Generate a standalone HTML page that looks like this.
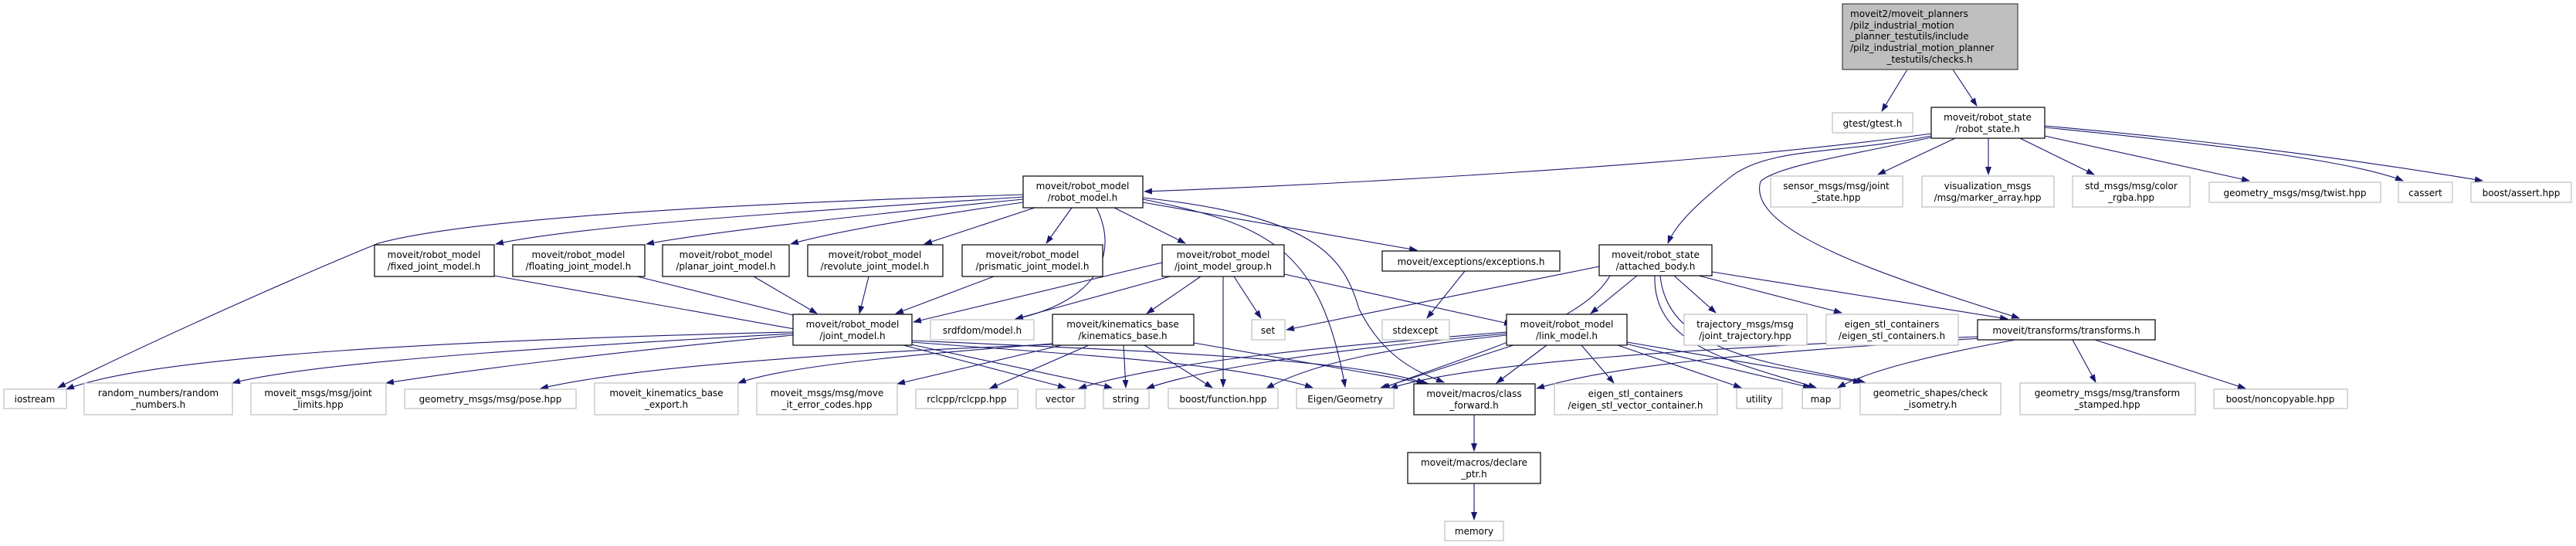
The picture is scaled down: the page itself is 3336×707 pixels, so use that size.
<!DOCTYPE html>
<html><head><meta charset="utf-8"><style>
html,body{margin:0;padding:0;background:#fff;}
svg{display:block;}
text{font-family:"DejaVu Sans","Liberation Sans",sans-serif;font-size:12px;fill:#000;}
.n{fill:#fff;stroke:#000;stroke-width:1.2;}
.g{fill:#fff;stroke:#bfbfbf;stroke-width:1.2;}
.r{fill:#bfbfbf;stroke:#404040;stroke-width:1.2;}
.e{fill:none;stroke:#191970;stroke-width:1.1;marker-end:url(#a);}
</style></head><body>
<svg width="3336" height="707" viewBox="0 0 3336 707" xmlns="http://www.w3.org/2000/svg">
<defs><marker id="a" markerUnits="userSpaceOnUse" markerWidth="11" markerHeight="8" refX="10" refY="4" orient="auto"><path d="M0,0 L11,4 L0,8 z" fill="#191970"/></marker></defs>
<g>
<path class="e" d="M2470,90 L2437,144"/>
<path class="e" d="M2529,90 L2560,137"/>
<path class="e" d="M2501,173 C2200,215 1700,240 1482,248"/>
<path class="e" d="M2501,176 C2380,200 2290,190 2240,230 C2200,262 2170,290 2160,315"/>
<path class="e" d="M2501,178 C2400,200 2300,215 2280,235 C2260,300 2450,360 2615,412"/>
<path class="e" d="M2532,179 L2432,226"/>
<path class="e" d="M2575,179 L2575,226"/>
<path class="e" d="M2616,179 L2712,226"/>
<path class="e" d="M2648,176 L2913,234"/>
<path class="e" d="M2648,165 C2900,190 3050,210 3112,234"/>
<path class="e" d="M2648,163 C2900,185 3100,215 3215,234"/>
<path class="e" d="M1325,255 C1100,270 760,290 642,316"/>
<path class="e" d="M1325,258 C1150,275 920,300 837,316"/>
<path class="e" d="M1325,262 C1200,280 1080,300 1024,316"/>
<path class="e" d="M1340,269 L1197,316"/>
<path class="e" d="M1388,269 L1355,315"/>
<path class="e" d="M1443,269 L1535,315"/>
<path class="e" d="M1480,262 L1835,324"/>
<path class="e" d="M1325,252 C900,265 600,285 490,315 C380,360 200,440 75,502"/>
<path class="e" d="M1420,269 C1450,330 1420,390 1315,413"/>
<path class="e" d="M1480,258 C1640,290 1710,320 1742,501"/>
<path class="e" d="M1480,256 C1700,280 1740,330 1760,400 C1790,460 1830,480 1870,495"/>
<path class="e" d="M640,357 L1040,428"/>
<path class="e" d="M825,358 L1043,412"/>
<path class="e" d="M976,358 L1058,406"/>
<path class="e" d="M1125,358 L1113,406"/>
<path class="e" d="M1287,358 L1160,406"/>
<path class="e" d="M1505,340 L1183,417"/>
<path class="e" d="M1515,358 L1315,413"/>
<path class="e" d="M1555,358 L1485,406"/>
<path class="e" d="M1598,358 L1633,412"/>
<path class="e" d="M1663,355 L1958,420"/>
<path class="e" d="M1584,358 L1584,501"/>
<path class="e" d="M1897,351 L1848,412"/>
<path class="e" d="M2071,345 L1666,427"/>
<path class="e" d="M2120,357 L2060,406"/>
<path class="e" d="M2168,357 L2222,405"/>
<path class="e" d="M2200,357 L2385,405"/>
<path class="e" d="M2217,352 L2600,413"/>
<path class="e" d="M2143,357 C2140,450 2250,470 2352,502"/>
<path class="e" d="M2150,357 C2160,460 2300,470 2415,495"/>
<path class="e" d="M2085,357 C2050,420 1900,460 1790,503"/>
<path class="e" d="M1027,430 C600,440 200,460 86,504"/>
<path class="e" d="M1027,432 C700,450 400,470 301,496"/>
<path class="e" d="M1027,434 C800,455 600,480 500,496"/>
<path class="e" d="M1170,447 L1380,502"/>
<path class="e" d="M1175,445 L1440,502"/>
<path class="e" d="M1181,443 C1400,460 1600,470 1700,502"/>
<path class="e" d="M1181,441 C1500,455 1750,465 1845,496"/>
<path class="e" d="M1363,446 C1000,460 800,480 700,503"/>
<path class="e" d="M1363,445 C1100,465 1000,480 956,496"/>
<path class="e" d="M1375,447 L1162,497"/>
<path class="e" d="M1410,447 L1282,503"/>
<path class="e" d="M1455,447 L1458,502"/>
<path class="e" d="M1482,447 L1570,502"/>
<path class="e" d="M1546,444 L1850,497"/>
<path class="e" d="M1951,430 C1700,450 1500,470 1397,503"/>
<path class="e" d="M1951,432 C1700,455 1550,480 1485,503"/>
<path class="e" d="M1951,434 C1800,450 1700,470 1640,503"/>
<path class="e" d="M1960,447 L1787,503"/>
<path class="e" d="M2003,447 L1938,496"/>
<path class="e" d="M2048,447 L2090,496"/>
<path class="e" d="M2095,447 L2255,502"/>
<path class="e" d="M2105,445 L2345,502"/>
<path class="e" d="M2107,443 L2410,495"/>
<path class="e" d="M2561,436 C2200,450 1900,470 1800,503"/>
<path class="e" d="M2565,438 C2300,455 2100,470 1990,503"/>
<path class="e" d="M2610,440 C2500,460 2420,480 2380,502"/>
<path class="e" d="M2684,440 L2714,495"/>
<path class="e" d="M2713,440 L2908,503"/>
<path class="e" d="M1909,537 L1909,584"/>
<path class="e" d="M1909,626 L1909,673"/>
</g>
<g>
<rect class="r" x="2386" y="5" width="227" height="85"/>
<text x="2396" y="22">moveit2/moveit_planners</text>
<text x="2396" y="37">/pilz_industrial_motion</text>
<text x="2396" y="51">_planner_testutils/include</text>
<text x="2396" y="66">/pilz_industrial_motion_planner</text>
<text x="2499" y="81" text-anchor="middle">_testutils/checks.h</text>
</g>
<g text-anchor="middle">
<rect class="g" x="2373" y="146" width="104" height="26"/><text x="2425" y="164">gtest/gtest.h</text>
<rect class="n" x="2501" y="139" width="147" height="40"/><text x="2574" y="156">moveit/robot_state</text><text x="2574" y="171">/robot_state.h</text>
<rect class="g" x="2293" y="228" width="171" height="40"/><text x="2378" y="245">sensor_msgs/msg/joint</text><text x="2378" y="260">_state.hpp</text>
<rect class="g" x="2489" y="228" width="171" height="40"/><text x="2574" y="245">visualization_msgs</text><text x="2574" y="260">/msg/marker_array.hpp</text>
<rect class="g" x="2684" y="228" width="152" height="40"/><text x="2760" y="245">std_msgs/msg/color</text><text x="2760" y="260">_rgba.hpp</text>
<rect class="g" x="2861" y="236" width="222" height="26"/><text x="2972" y="254">geometry_msgs/msg/twist.hpp</text>
<rect class="g" x="3106" y="236" width="70" height="26"/><text x="3141" y="254">cassert</text>
<rect class="g" x="3200" y="236" width="130" height="26"/><text x="3265" y="254">boost/assert.hpp</text>
<rect class="n" x="1325" y="228" width="155" height="41"/><text x="1402" y="245">moveit/robot_model</text><text x="1402" y="260">/robot_model.h</text>
<rect class="n" x="485" y="317" width="155" height="41"/><text x="562" y="334">moveit/robot_model</text><text x="562" y="349">/fixed_joint_model.h</text>
<rect class="n" x="664" y="317" width="171" height="41"/><text x="749" y="334">moveit/robot_model</text><text x="749" y="349">/floating_joint_model.h</text>
<rect class="n" x="858" y="317" width="164" height="41"/><text x="940" y="334">moveit/robot_model</text><text x="940" y="349">/planar_joint_model.h</text>
<rect class="n" x="1046" y="317" width="175" height="41"/><text x="1133" y="334">moveit/robot_model</text><text x="1133" y="349">/revolute_joint_model.h</text>
<rect class="n" x="1246" y="317" width="182" height="41"/><text x="1337" y="334">moveit/robot_model</text><text x="1337" y="349">/prismatic_joint_model.h</text>
<rect class="n" x="1505" y="317" width="158" height="41"/><text x="1584" y="334">moveit/robot_model</text><text x="1584" y="349">/joint_model_group.h</text>
<rect class="n" x="1790" y="325" width="230" height="26"/><text x="1905" y="343">moveit/exceptions/exceptions.h</text>
<rect class="n" x="2071" y="317" width="146" height="40"/><text x="2144" y="334">moveit/robot_state</text><text x="2144" y="349">/attached_body.h</text>
<rect class="n" x="1027" y="407" width="154" height="40"/><text x="1104" y="424">moveit/robot_model</text><text x="1104" y="439">/joint_model.h</text>
<rect class="g" x="1205" y="414" width="134" height="26"/><text x="1272" y="432">srdfdom/model.h</text>
<rect class="n" x="1363" y="407" width="183" height="40"/><text x="1454" y="424">moveit/kinematics_base</text><text x="1454" y="439">/kinematics_base.h</text>
<rect class="g" x="1621" y="414" width="43" height="26"/><text x="1642" y="432">set</text>
<rect class="g" x="1790" y="414" width="87" height="26"/><text x="1833" y="432">stdexcept</text>
<rect class="n" x="1951" y="407" width="156" height="40"/><text x="2029" y="424">moveit/robot_model</text><text x="2029" y="439">/link_model.h</text>
<rect class="g" x="2181" y="407" width="159" height="40"/><text x="2260" y="424">trajectory_msgs/msg</text><text x="2260" y="439">/joint_trajectory.hpp</text>
<rect class="g" x="2365" y="407" width="171" height="40"/><text x="2450" y="424">eigen_stl_containers</text><text x="2450" y="439">/eigen_stl_containers.h</text>
<rect class="n" x="2561" y="414" width="230" height="26"/><text x="2676" y="432">moveit/transforms/transforms.h</text>
<rect class="g" x="5" y="504" width="81" height="25"/><text x="45" y="521">iostream</text>
<rect class="g" x="109" y="496" width="192" height="41"/><text x="205" y="513">random_numbers/random</text><text x="205" y="528">_numbers.h</text>
<rect class="g" x="325" y="496" width="175" height="41"/><text x="412" y="513">moveit_msgs/msg/joint</text><text x="412" y="528">_limits.hpp</text>
<rect class="g" x="524" y="504" width="222" height="25"/><text x="635" y="521">geometry_msgs/msg/pose.hpp</text>
<rect class="g" x="770" y="496" width="186" height="41"/><text x="863" y="513">moveit_kinematics_base</text><text x="863" y="528">_export.h</text>
<rect class="g" x="980" y="496" width="182" height="41"/><text x="1071" y="513">moveit_msgs/msg/move</text><text x="1071" y="528">_it_error_codes.hpp</text>
<rect class="g" x="1186" y="504" width="132" height="25"/><text x="1252" y="521">rclcpp/rclcpp.hpp</text>
<rect class="g" x="1342" y="504" width="63" height="25"/><text x="1373" y="521">vector</text>
<rect class="g" x="1429" y="504" width="59" height="25"/><text x="1458" y="521">string</text>
<rect class="g" x="1513" y="503" width="142" height="26"/><text x="1584" y="521">boost/function.hpp</text>
<rect class="g" x="1679" y="503" width="126" height="26"/><text x="1742" y="521">Eigen/Geometry</text>
<rect class="n" x="1831" y="497" width="157" height="40"/><text x="1909" y="514">moveit/macros/class</text><text x="1909" y="529">_forward.h</text>
<rect class="g" x="2013" y="497" width="211" height="40"/><text x="2118" y="514">eigen_stl_containers</text><text x="2118" y="529">/eigen_stl_vector_container.h</text>
<rect class="g" x="2249" y="503" width="59" height="26"/><text x="2278" y="521">utility</text>
<rect class="g" x="2334" y="503" width="49" height="26"/><text x="2358" y="521">map</text>
<rect class="g" x="2409" y="496" width="182" height="41"/><text x="2500" y="513">geometric_shapes/check</text><text x="2500" y="528">_isometry.h</text>
<rect class="g" x="2616" y="496" width="227" height="41"/><text x="2729" y="513">geometry_msgs/msg/transform</text><text x="2729" y="528">_stamped.hpp</text>
<rect class="g" x="2867" y="504" width="173" height="25"/><text x="2953" y="521">boost/noncopyable.hpp</text>
<rect class="n" x="1823" y="586" width="172" height="40"/><text x="1909" y="603">moveit/macros/declare</text><text x="1909" y="618">_ptr.h</text>
<rect class="g" x="1871" y="675" width="76" height="25"/><text x="1909" y="692">memory</text>
</g>
</svg>
</body></html>
